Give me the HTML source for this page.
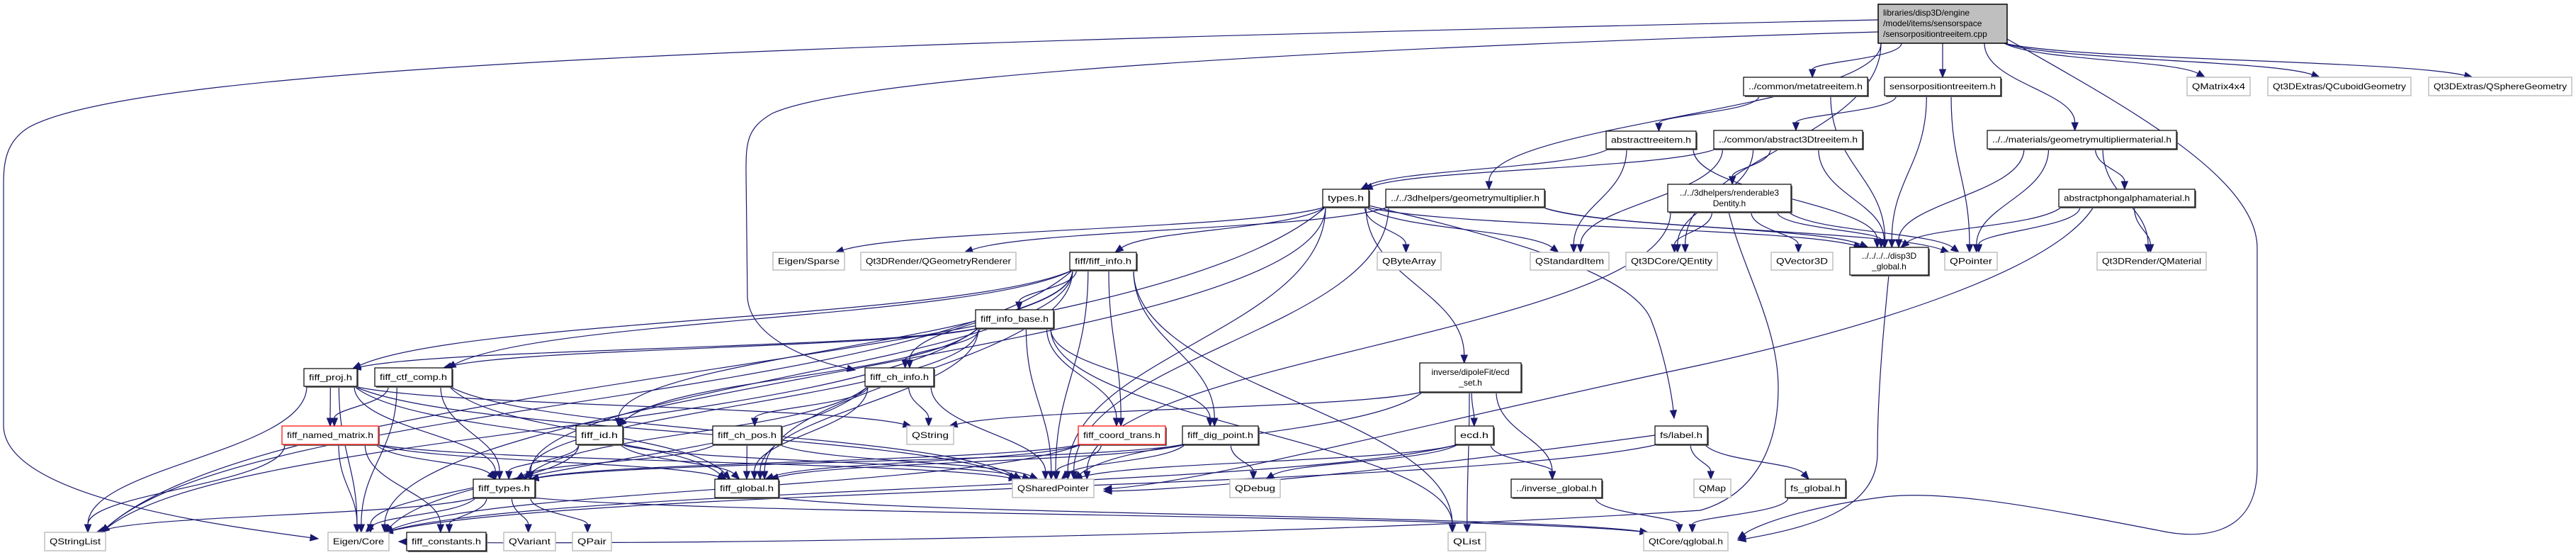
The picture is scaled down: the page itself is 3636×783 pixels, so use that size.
<!DOCTYPE html>
<html><head><meta charset="utf-8"><style>
html,body{margin:0;padding:0;background:#fff;}
svg{display:block;}
text{font-family:"Liberation Sans",Arial,sans-serif;font-size:12px;fill:#000;}
</style></head><body>
<svg id="g" width="3636" height="783" viewBox="0 0 3636 783" xmlns="http://www.w3.org/2000/svg">
<g id="edges" fill="none" stroke="#191970" stroke-width="1.2"></g>
<g id="arrows" fill="#191970" stroke="#191970" stroke-width="1"></g>
<g id="nodes">
<rect x="2651" y="6" width="182" height="55" fill="#bfbfbf" stroke="#000" stroke-width="1.5"/>
<text x="2658" y="22">libraries/disp3D/engine</text>
<text x="2658" y="37">/model/items/sensorspace</text>
<text x="2658" y="52">/sensorpositiontreeitem.cpp</text>
</g>
</svg>
<script>
var N={
meta:[2461,2636,109,135,["../common/metatreeitem.h"],"b"],
spti:[2660,2824,109,135,["sensorpositiontreeitem.h"],"b"],
qm4:[3087,3176,109,135,["QMatrix4x4"],"g"],
cub:[3201,3403,109,135,["Qt3DExtras/QCuboidGeometry"],"g"],
sph:[3428,3630,109,135,["Qt3DExtras/QSphereGeometry"],"g"],
ati:[2267,2394,185,210,["abstracttreeitem.h"],"b"],
a3d:[2419,2629,184,210,["../common/abstract3Dtreeitem.h"],"b"],
gmm:[2805,3072,184,210,["../../materials/geometrymultipliermaterial.h"],"b"],
types:[1867,1932,267,292,["types.h"],"b"],
gm:[1956,2180,267,292,["../../3dhelpers/geometrymultiplier.h"],"b"],
r3d:[2354,2528,260,299,["../../3dhelpers/renderable3","Dentity.h"],"b"],
apm:[2906,3098,267,292,["abstractphongalphamaterial.h"],"b"],
qgr:[1215,1434,356,381,["Qt3DRender/QGeometryRenderer"],"g"],
finfo:[1510,1604,356,381,["fiff/fiff_info.h"],"b"],
esp:[1091,1192,356,381,["Eigen/Sparse"],"g"],
qba:[1944,2034,356,381,["QByteArray"],"g"],
qsi:[2160,2271,356,381,["QStandardItem"],"g"],
qent:[2295,2424,356,381,["Qt3DCore/QEntity"],"g"],
qv3:[2500,2587,356,381,["QVector3D"],"g"],
dglob:[2611,2722,349,388,["../../../../disp3D","_global.h"],"b"],
qptr:[2745,2819,356,381,["QPointer"],"g"],
qmat:[2960,3114,356,381,["Qt3DRender/QMaterial"],"g"],
fib:[1377,1487,437,463,["fiff_info_base.h"],"b"],
fci:[1221,1318,519,545,["fiff_ch_info.h"],"b"],
ecds:[2004,2147,512,553,["inverse/dipoleFit/ecd","_set.h"],"b"],
fproj:[429,504,520,545,["fiff_proj.h"],"b"],
fctf:[529,638,519,545,["fiff_ctf_comp.h"],"b"],
fnm:[398,534,601,627,["fiff_named_matrix.h"],"r"],
fid:[813,879,601,627,["fiff_id.h"],"b"],
fcp:[1006,1103,601,627,["fiff_ch_pos.h"],"b"],
qstr:[1280,1346,601,627,["QString"],"g"],
fct:[1522,1645,601,627,["fiff_coord_trans.h"],"r"],
fdp:[1669,1776,601,627,["fiff_dig_point.h"],"b"],
ecd:[2054,2108,601,627,["ecd.h"],"b"],
lab:[2336,2410,601,627,["fs/label.h"],"b"],
ftypes:[668,755,676,702,["fiff_types.h"],"b"],
fglob:[1009,1099,676,702,["fiff_global.h"],"b"],
qsp:[1429,1544,676,702,["QSharedPointer"],"g"],
qdbg:[1736,1807,676,702,["QDebug"],"g"],
invg:[2133,2261,676,702,["../inverse_global.h"],"b"],
qmap:[2391,2443,676,702,["QMap"],"g"],
fsg:[2520,2605,676,702,["fs_global.h"],"b"],
qsl:[63,149,751,777,["QStringList"],"g"],
ecore:[463,549,751,777,["Eigen/Core"],"g"],
fconst:[574,686,751,777,["fiff_constants.h"],"b"],
qvar:[711,784,751,777,["QVariant"],"g"],
qpair:[808,863,751,777,["QPair"],"g"],
qlist:[2044,2097,751,777,["QList"],"g"],
qglob:[2320,2439,751,777,["QtCore/qglobal.h"],"g"],
main:[2651,2833,6,61,[],"m"]
};
var E=[
["main","meta"],["main","spti"],["main","gmm"],["main","qm4"],["main","cub"],["main","sph"],["main","qent"],["main","gm"],
["meta","ati"],["meta","dglob"],["spti","a3d"],["spti","dglob"],["spti","qptr"],
["ati","types"],["ati","qsi"],["ati","dglob"],
["a3d","types"],["a3d","qsi"],["a3d","r3d"],["a3d","dglob"],["a3d","qent"],
["r3d","qent"],["r3d","qv3"],["r3d","dglob"],["r3d","qptr"],
["gmm","apm"],["gmm","dglob"],["gmm","qptr"],["gmm","qmat"],
["apm","dglob"],["apm","qptr"],["apm","qmat"],
["gm","dglob"],["gm","qptr"],["gm","qgr"],["gm","qsp"],
["types","finfo"],["types","qba"],["types","qsi"],["types","esp"],["types","qsp"],["types","ecds"],["types","dglob"],["types","ecore"],["types","qsl"],
["finfo","fib"],["finfo","fci"],["finfo","fproj"],["finfo","fctf"],["finfo","fct"],["finfo","fdp"],["finfo","ftypes"],["finfo","fglob"],["finfo","qsp"],["finfo","qsl"],["finfo","qlist"],["finfo","fid"],
["fib","fci"],["fib","fproj"],["fib","fctf"],["fib","fid"],["fib","fct"],["fib","fdp"],["fib","ftypes"],["fib","qsp"],["fib","qlist"],["fib","qsl"],["fib","fglob"],
["fci","qstr"],["fci","ftypes"],["fci","fcp"],["fci","fglob"],["fci","qsp"],["fci","ecore"],
["fproj","fnm"],["fproj","ftypes"],["fproj","qsl"],["fproj","ecore"],["fproj","qsp"],["fproj","fglob"],["fproj","qstr"],
["fctf","fnm"],["fctf","ftypes"],["fctf","qsp"],["fctf","fglob"],["fctf","ecore"],
["fnm","ftypes"],["fnm","qsl"],["fnm","ecore"],["fnm","fconst"],["fnm","fglob"],["fnm","qsp"],
["fid","ftypes"],["fid","fglob"],["fid","qsp"],["fid","ecore"],
["fcp","fglob"],["fcp","ftypes"],["fcp","qsp"],
["ftypes","fconst"],["ftypes","ecore"],["ftypes","qvar"],["ftypes","qpair"],["ftypes","qsl"],["ftypes","qglob"],
["fglob","qglob"],
["fct","ftypes"],["fct","qsp"],["fct","ecore"],["fct","fglob"],
["fdp","qdbg"],["fdp","qsp"],["fdp","fglob"],["fdp","ftypes"],
["ecds","ecd"],["ecds","invg"],["ecds","qlist"],["ecds","qsp"],["ecds","qstr"],
["ecd","invg"],["ecd","qdbg"],["ecd","qsp"],["ecd","ecore"],
["invg","qglob"],
["lab","fsg"],["lab","qmap"],["lab","ecore"],
["fsg","qglob"],["r3d","qsp"]
];
var C=[
["M2651,28 C1200,60 200,90 40,180 C8,200 5,230 5,260 L5,600 C5,700 300,740 449,760","ecore"],
["M2651,45 C1800,70 1200,110 1090,160 C1055,180 1053,200 1053,240 L1055,420 C1060,480 1150,510 1207,522","fci"],
["M2833,55 C3000,150 3186,250 3186,350 L3186,660 C3186,760 3100,760 3050,749 C2900,720 2750,690 2660,701 C2550,715 2480,740 2453,760","qglob"],
["M2666,388 C2660,450 2650,550 2650,640 C2650,720 2550,745 2453,762","qglob"],
["M2440,299 C2460,380 2510,460 2510,547 C2510,640 2470,700 2400,720 C1800,760 800,770 563,764","ecore"],
["M2955,292 C2900,380 2650,460 2400,515 C2000,600 1700,680 1558,690","qsp"],
["M1932,290 C2100,330 2300,380 2330,450 C2350,500 2360,560 2363,590","lab"],
["M2336,614 C2000,660 1700,690 1558,693","qsp"]
];
var ns="http://www.w3.org/2000/svg";
var gN=document.getElementById("nodes"),gE=document.getElementById("edges"),gA=document.getElementById("arrows");
function el(t,a,p){var e=document.createElementNS(ns,t);for(var k in a)e.setAttribute(k,a[k]);p.appendChild(e);return e;}
for(var k in N){var n=N[k];if(n[5]=="m")continue;
 var col=n[5]=="g"?"#bfbfbf":(n[5]=="r"?"#ff0000":"#000");
 if(n[5]=="b"||n[5]=="r"){el("rect",{x:n[0]+2,y:n[2]+2,width:n[1]-n[0],height:n[3]-n[2],fill:"#666"},gN);}
 el("rect",{x:n[0],y:n[2],width:n[1]-n[0],height:n[3]-n[2],fill:"#fff",stroke:col,"stroke-width":n[5]=="g"?1.5:1.2},gN);
 var L=n[4],h=n[3]-n[2];
 for(var i=0;i<L.length;i++){
  var y=n[2]+h/2+4+(i-(L.length-1)/2)*15;
  var t=el("text",{x:(n[0]+n[1])/2,y:y,"text-anchor":"middle"},gN);t.textContent=L[i];
  if(L.length==1){t.setAttribute("textLength",n[1]-n[0]-14);t.setAttribute("lengthAdjust","spacingAndGlyphs");}
 }
}
function arrow(x1,y1,x,y){var dx=x-x1,dy=y-y1,l=Math.sqrt(dx*dx+dy*dy)||1;dx/=l;dy/=l;
 var bx=x-dx*11,by=y-dy*11;
 el("polygon",{points:x+","+y+" "+(bx-dy*4.5)+","+(by+dx*4.5)+" "+(bx+dy*4.5)+","+(by-dx*4.5)},gA);
 return [bx,by];}
function cl(v,a,b){return Math.max(a,Math.min(b,v));}
E.forEach(function(e){var s=N[e[0]],t=N[e[1]];
 var scx=(s[0]+s[1])/2,tcx=(t[0]+t[1])/2,scy=(s[2]+s[3])/2,tcy=(t[2]+t[3])/2;
 var sx,sy,tx,ty,c1x,c1y,c2x,c2y;
 if(t[2]>s[3]+5){
  sx=cl(scx+(tcx-scx)*0.3,s[0]+4,s[1]-4);sy=s[3];
  tx=cl(tcx+(scx-tcx)*0.05,t[0]+6,t[1]-6);ty=t[2];
  var dy=ty-sy;c1x=sx;c1y=sy+dy*0.45;c2x=tx;c2y=ty-dy*0.45;
  if(Math.abs(tx-sx)>3*dy){c1x=sx+(tx-sx)*0.15;c2x=tx-(tx-sx)*0.15;c1y=sy+dy*0.5;c2y=ty-dy*0.5;}
 }else{
  sy=scy;ty=tcy;
  if(tcx>scx){sx=s[1];tx=t[0];}else{sx=s[0];tx=t[1];}
  c1x=sx+(tx-sx)*0.4;c1y=sy;c2x=tx-(tx-sx)*0.4;c2y=ty;
 }
 var b=arrow(c2x,c2y,tx,ty);
 el("path",{d:"M"+sx+","+sy+" C"+c1x+","+c1y+" "+c2x+","+c2y+" "+b[0]+","+b[1]},gE);
});
C.forEach(function(c){var m=c[0].match(/-?[\d.]+/g).map(Number);var n=m.length;
 var px=m[n-4],py=m[n-3],x=m[n-2],y=m[n-1];
 var b=arrow(px,py,x,y);
 var d=c[0].replace(/-?[\d.]+,-?[\d.]+$/,b[0]+","+b[1]);
 el("path",{d:d},gE);
});
</script>
</body></html>
